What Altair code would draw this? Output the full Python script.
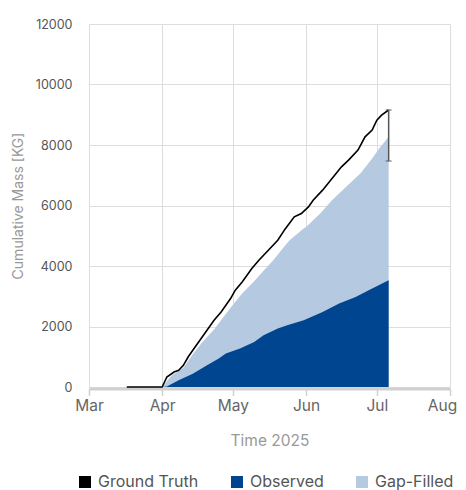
import altair as alt
import pandas as pd

# Ground truth cumulative mass
gt_dates = ["2025-03-17", "2025-04-01", "2025-04-03", "2025-04-06", "2025-04-08", "2025-04-10",
            "2025-04-12", "2025-04-14", "2025-04-17", "2025-04-20", "2025-04-23", "2025-04-26",
            "2025-04-30", "2025-05-02", "2025-05-05", "2025-05-09", "2025-05-12", "2025-05-16",
            "2025-05-20", "2025-05-23", "2025-05-27", "2025-05-30", "2025-06-02", "2025-06-04",
            "2025-06-08", "2025-06-12", "2025-06-16", "2025-06-19", "2025-06-23", "2025-06-26",
            "2025-06-29", "2025-07-01", "2025-07-03", "2025-07-06"]
gt_values = [0, 0, 331, 496, 552, 718,
             992, 1213, 1545, 1875, 2206, 2481,
             2924, 3199, 3480, 3917, 4191, 4522,
             4853, 5210, 5624, 5736, 5954, 6176,
             6507, 6894, 7278, 7499, 7830, 8270,
             8492, 8822, 8988, 9157]

# Observed + gap-filled (total)
tot_dates = ["2025-04-01", "2025-04-05", "2025-04-10", "2025-04-14", "2025-04-18", "2025-04-23",
             "2025-04-27", "2025-05-01", "2025-05-05", "2025-05-10", "2025-05-14", "2025-05-18",
             "2025-05-22", "2025-05-25", "2025-05-31", "2025-06-01", "2025-06-07", "2025-06-12",
             "2025-06-18", "2025-06-24", "2025-06-29", "2025-07-02", "2025-07-06"]
tot_values = [0, 380, 640, 1080, 1480, 1900,
              2310, 2720, 3100, 3500, 3840, 4180,
              4570, 4850, 5240, 5293, 5736, 6176,
              6616, 7059, 7555, 7886, 8270]

# Observed
obs_dates = ["2025-04-01", "2025-04-03", "2025-04-08", "2025-04-14", "2025-04-20", "2025-04-25",
             "2025-04-28", "2025-05-04", "2025-05-10", "2025-05-14", "2025-05-20", "2025-05-24",
             "2025-05-31", "2025-06-08", "2025-06-15", "2025-06-22", "2025-06-29", "2025-07-06"]
obs_values = [0, 20, 221, 441, 718, 939,
              1104, 1270, 1489, 1710, 1932, 2041,
              2206, 2481, 2759, 2977, 3255, 3530]

# Uncertainty at the last ground-truth point
err_date = ["2025-07-06"]
err_low = [7470]
err_high = [9157]

series_names = ["Ground Truth", "Observed", "Gap-Filled"]
series_colors = ["#000000", "#00458f", "#b5c9e1"]

def ts(d):
    return [s + "T00:00:00" for s in d]

gt_df = pd.DataFrame({"date": ts(gt_dates), "value": gt_values})
tot_df = pd.DataFrame({"date": ts(tot_dates), "value": tot_values, "series": "Gap-Filled"})
obs_df = pd.DataFrame({"date": ts(obs_dates), "value": obs_values, "series": "Observed"})
err_df = pd.DataFrame({"date": ts(err_date), "low": err_low, "high": err_high})

font = "Inter"

x_enc = alt.X(
    "date:T",
    title="Time 2025",
    scale=alt.Scale(domain=[alt.DateTime(year=2025, month=3, date=1),
                            alt.DateTime(year=2025, month=8, date=1)]),
    axis=alt.Axis(format="%b", tickCount="month", labelFontSize=15.5, labelColor="#666666",
                  labelFlush=False, offset=1.5,
                  labelOffset={"condition": {"test": "datum.label == 'Aug'", "value": -8},
                               "value": 0},
                  titleFontSize=15.5, titleColor="#999999", titleFontWeight="normal",
                  titlePadding=19, domainColor="#d0d0d0", domainWidth=3,
                  tickColor="#d0d0d0", tickSize=7, tickWidth=1.5, labelPadding=3,
                  gridColor="#dddddd"),
)
y_scale = alt.Scale(domain=[0, 12000])
y_axis = alt.Axis(values=[0, 2000, 4000, 6000, 8000, 10000, 12000], format="d",
                  labelFontSize=12.5, labelColor="#555555", titleFontSize=14,
                  titleColor="#999999", titleFontWeight="normal", titlePadding=10,
                  domain=False, ticks=False, labelPadding=17, gridColor="#dddddd")

color_enc = alt.Color(
    "series:N",
    scale=alt.Scale(domain=series_names, range=series_colors),
    legend=alt.Legend(title=None, orient="none", direction="horizontal", legendX=-12,
                      legendY=450, symbolType="square", symbolSize=144, symbolStrokeWidth=0,
                      labelFontSize=16, labelColor="#555555", columnPadding=30, labelOffset=5),
)

total_area = alt.Chart(tot_df).mark_area(opacity=1).encode(
    x=x_enc,
    y=alt.Y("value:Q", title="Cumulative Mass [KG]", scale=y_scale, axis=y_axis, stack=None),
    color=color_enc,
)
obs_area = alt.Chart(obs_df).mark_area(opacity=1).encode(
    x="date:T",
    y=alt.Y("value:Q", stack=None),
    color=color_enc,
)
gt_line = alt.Chart(gt_df).mark_line(strokeWidth=1.6, color="black").encode(
    x="date:T",
    y="value:Q",
)
err_rule = alt.Chart(err_df).mark_rule(color="#555555", strokeWidth=1.5).encode(
    x="date:T", y="low:Q", y2="high:Q"
)
cap_lo = alt.Chart(err_df).mark_tick(color="#555555", orient="horizontal", size=6,
                                     thickness=1.3).encode(x="date:T", y="low:Q")
cap_hi = alt.Chart(err_df).mark_tick(color="#555555", orient="horizontal", size=6,
                                     thickness=1.3).encode(x="date:T", y="high:Q")

chart = alt.layer(total_area, obs_area, gt_line, err_rule, cap_lo, cap_hi).properties(
    width=361, height=363,
    autosize=alt.AutoSizeParams(type="none"),
    padding={"top": 16, "left": 81, "right": 8, "bottom": 105},
).configure(font=font).configure_view(stroke=None)

chart.save("out.html", embed_options={"renderer": "svg", "actions": False})
